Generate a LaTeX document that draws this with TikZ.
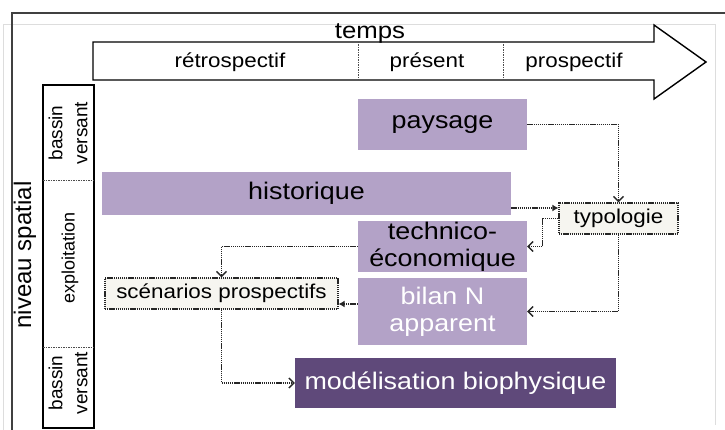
\documentclass[tikz,border=0pt]{standalone}
\usepackage{fontspec}
\setmainfont{Liberation Sans}[FakeStretch=1.12]
\newfontfamily\rotfont{Liberation Sans}
\usetikzlibrary{arrows.meta,calc}
\definecolor{lpurp}{HTML}{B3A2C7}
\definecolor{dpurp}{HTML}{5F497A}
\definecolor{beige}{HTML}{F6F5F0}
\definecolor{lineg}{HTML}{262626}
\definecolor{frameg}{HTML}{404040}
\definecolor{faintg}{HTML}{DDDDDD}
\begin{document}
\begin{tikzpicture}[x=1pt,y=-1pt,
  box/.style={fill=lpurp, inner sep=0pt, align=center, font=\fontsize{24}{27}\selectfont},
  dbox/.style={fill=dpurp, inner sep=0pt, align=center, text=white, font=\fontsize{24}{27}\selectfont},
  dotbox/.style={fill=beige, draw=lineg, line width=1.2pt, dash pattern=on 1.3pt off 0.8pt, inner sep=0pt, align=center, font=\fontsize{20}{24}\selectfont},
  conn/.style={draw=lineg, line width=1.4pt, dash pattern=on 1.3pt off 0.8pt},
  openarr/.style={-{Straight Barb[length=5pt,width=10pt,line width=1.4pt]}},
  fillarr/.style={-{Latex[length=6pt,width=7pt]}},
  rottxt/.style={rotate=90, inner sep=0pt, align=center},
  divider/.style={draw=black!70, line width=0.7pt, dash pattern=on 1.5pt off 1pt}
]
\useasboundingbox (0,0) rectangle (725,430);
% frame
\draw[faintg, line width=0.8pt] (3,430) -- (3,24) -- (715,24) -- (715,425);
\draw[frameg, line width=1.6pt] (12,430) -- (12,13) -- (725,13);

% time arrow
\draw[black, line width=1.4pt, line join=miter]
  (93,42) -- (654,42) -- (654,25) -- (706,62) -- (654,99) -- (654,80) -- (93,80) -- cycle;
\draw[divider] (358,42) -- (358,80);
\draw[divider] (503,42) -- (503,80);
\node[anchor=base, inner sep=0pt, font=\fontsize{23}{26}\selectfont] (temps) at (370,39) {temps};
\node[font=\fontsize{20}{24}\selectfont, inner sep=0pt] (retro) at (230,62) {rétrospectif};
\node[font=\fontsize{20}{24}\selectfont, inner sep=0pt] (pres) at (427,62) {présent};
\node[font=\fontsize{20}{24}\selectfont, inner sep=0pt] (prosp) at (574,62) {prospectif};

% spatial column
\draw[black, line width=1.4pt] (43,85) rectangle (94,428);
\draw[divider] (43,180) -- (94,180);
\draw[divider] (43,347) -- (94,347);
\node[rottxt, font=\rotfont\fontsize{24}{28}\selectfont] (niv) at (25,255) {niveau spatial};
\node[rottxt, font=\rotfont\fontsize{19}{25}\selectfont] (bv1) at (68,133) {bassin\\versant};
\node[rottxt, font=\rotfont\fontsize{18}{22}\selectfont] (expl) at (70,258) {exploitation};
\node[rottxt, font=\rotfont\fontsize{19}{25}\selectfont] (bv2) at (68,383) {bassin\\versant};

% boxes
\node[box, minimum width=169pt, minimum height=51pt] (pays) at (442.5,124.5) {paysage};
\node[box, minimum width=409pt, minimum height=43pt] (hist) at (306.5,193.5) {historique};
\node[box, minimum width=169pt, minimum height=51pt] (tech) at (442.5,246.5) {technico-\\économique};
\node[box, text=white, minimum width=169pt, minimum height=67pt] (bilan) at (442.5,311.5) {bilan N\\apparent};
\node[dbox, minimum width=321pt, minimum height=50pt] (model) at (455.5,383) {modélisation biophysique};
\node[dotbox, minimum width=119pt, minimum height=31pt] (typo) at (618.5,218.5) {typologie};
\node[dotbox, minimum width=233pt, minimum height=31pt] (scen) at (221.5,293.5) {scénarios prospectifs};

% helper coordinates
\coordinate (y208) at (0,208);
\coordinate (y304) at (0,304);

% connectors
\draw[conn, openarr] (pays.east) -| (typo.north);
\draw[conn, fillarr] (hist.east |- y208) -- (typo.west |- y208);
\draw[conn, openarr] (typo.west) -- ++(-16,0) |- (tech.east);
\draw[conn, openarr] (typo.south) |- (bilan.east);
\draw[conn, openarr] (tech.west) -| (scen.north);
\draw[conn, fillarr] (bilan.west |- y304) -- (scen.east |- y304);
\draw[conn, openarr] (scen.south) |- (model.west);
\end{tikzpicture}
\end{document}
